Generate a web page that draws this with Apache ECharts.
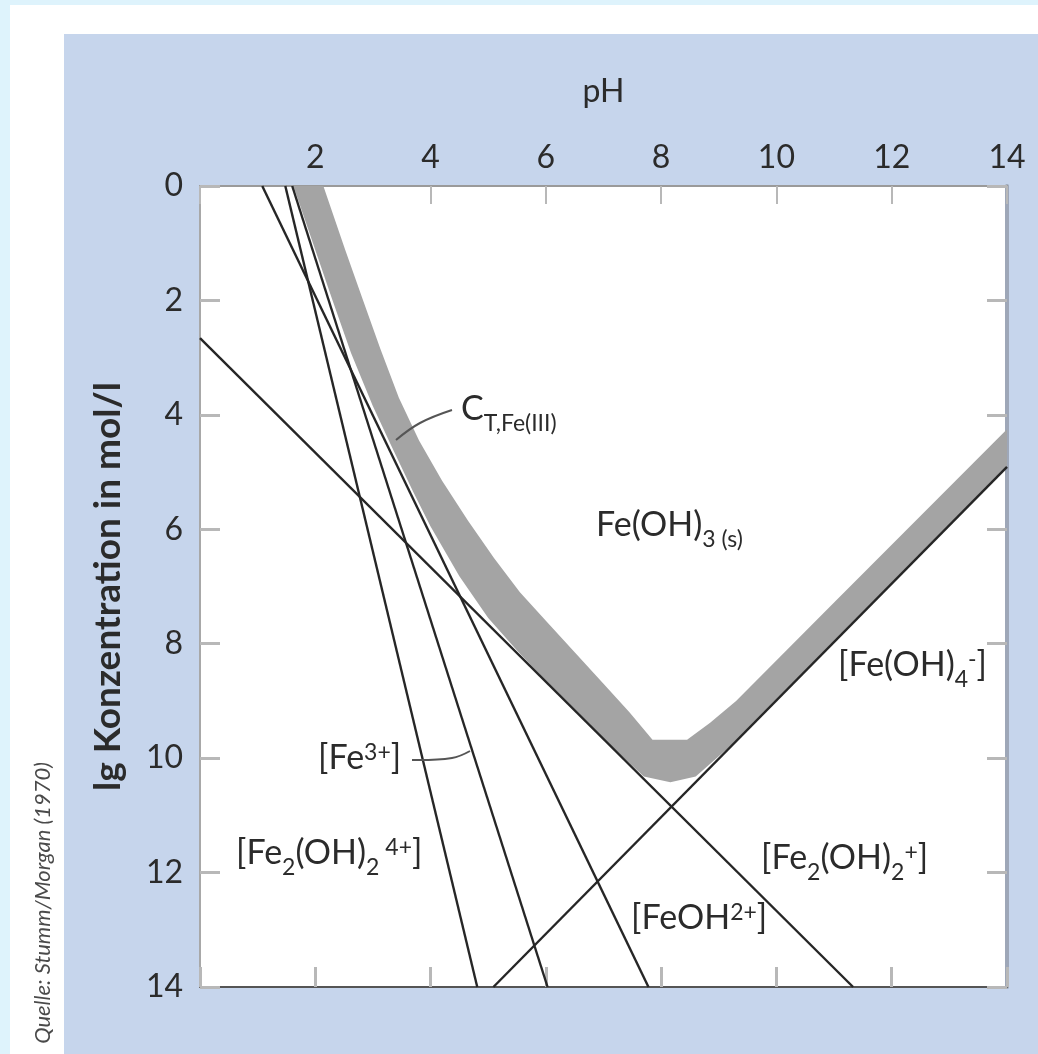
<!DOCTYPE html>
<html><head><meta charset="utf-8">
<script src="https://cdn.jsdelivr.net/npm/echarts@6/dist/echarts.min.js"></script>
<style>
html,body{margin:0;padding:0;}
body{width:1038px;height:1054px;background:#def3fc;position:relative;overflow:hidden;}
#white{position:absolute;left:10px;top:5px;right:0;bottom:0;background:#fff;}
#panel{position:absolute;left:64px;top:34px;right:0;bottom:0;background:#c6d5ec;}
#chart{position:absolute;left:0;top:0;width:1038px;height:1054px;}
</style></head><body>
<div id="white"></div><div id="panel"></div><div id="chart"></div>
<script>
// ---- data (pH, lg concentration shown as positive, axis inverted) ----
const xTickValues = [0, 2, 4, 6, 8, 10, 12, 14];
const xTickLabels = ['', '2', '4', '6', '8', '10', '12', '14'];
const yTickLabels = ['0', '2', '4', '6', '8', '10', '12', '14'];

const lineFe2OH2_4plus = [[1.48, 0], [4.81, 14]];
const lineFe3plus      = [[1.60, 0], [6.03, 14]];
const lineFeOH2plus    = [[1.08, 0], [7.78, 14]];
const lineFeOH2_plus   = [[0, 2.66], [11.33, 14]];
const lineFeOH4minus   = [[5.09, 14], [14, 4.91]];

// C_T,Fe(III) band: upper (toward solid region) and lower edges
const bandUpper = [[2.14,0],[2.52,1.12],[2.83,2.0],[3.13,2.85],[3.45,3.7],[3.8,4.45],[4.2,5.15],[4.65,5.85],[5.1,6.5],[5.55,7.1],[6.0,7.6],[6.5,8.15],[7.0,8.7],[7.45,9.2],[7.85,9.68],[8.45,9.68],[8.85,9.38],[9.3,9.0],[11,7.28],[14,4.25]];
const bandLower = [[14,4.91],[11,7.97],[9.3,9.7],[8.6,10.32],[8.16,10.42],[7.7,10.32],[7.0,9.66],[6.0,8.65],[5.5,8.12],[5.0,7.55],[4.5,6.82],[4.0,5.95],[3.7,5.35],[3.3,4.5],[3.0,3.85],[2.62,2.92],[2.3,2.0],[2.0,1.12],[1.62,0]];

const FONT = 'Lato';
const TXT = '#2b2b2b';
const chart = echarts.init(document.getElementById('chart'));

const rich = {
  m: {fontSize: 34, lineHeight: 34, padding: [0,0,9,0], verticalAlign: 'bottom', fontFamily: FONT, fill: TXT},
  b: {fontSize: 23, lineHeight: 23, verticalAlign: 'bottom', fontFamily: FONT, fill: TXT},
  p: {fontSize: 23, lineHeight: 23, padding: [0,0,20,0], verticalAlign: 'bottom', fontFamily: FONT, fill: TXT}
};
function label(x, y, text) {
  return {type: 'text', x: x, y: y, z: 100, style: {text: text, rich: rich, align: 'left', verticalAlign: 'top', fontFamily: FONT, fontSize: 34, fill: TXT}};
}

const lineSeries = (data) => ({
  type: 'line', data: data, symbol: 'none', showSymbol: false, clip: true, silent: true, z: 3,
  lineStyle: {color: '#262626', width: 2.4}
});

const tickStyle = {inside: true, length: 20, lineStyle: {color: '#b8b8b8', width: 3}};

chart.setOption({
  animation: false,
  grid: {left: 200, top: 186, right: 31, bottom: 67, show: true, backgroundColor: '#ffffff', borderWidth: 0},
  xAxis: [
    {type: 'value', position: 'top', min: 0, max: 14, interval: 2,
     axisLine: {show: true, onZero: false, lineStyle: {color: '#9a9a9a', width: 2}},
     axisTick: {show: true, inside: true, length: 18, lineStyle: {color: '#b8b8b8', width: 2}},
     axisLabel: {formatter: v => xTickLabels[xTickValues.indexOf(v)], fontSize: 32, color: TXT, margin: 12, fontFamily: FONT},
     splitLine: {show: false},
     name: 'pH', nameLocation: 'middle', nameGap: 78,
     nameTextStyle: {fontSize: 32, color: TXT, fontFamily: FONT}},
    {type: 'value', position: 'bottom', min: 0, max: 14, interval: 2,
     axisLine: {show: true, onZero: false, lineStyle: {color: '#555', width: 2}},
     axisTick: tickStyle, axisLabel: {show: false}, splitLine: {show: false}}
  ],
  yAxis: [
    {type: 'value', position: 'left', inverse: true, min: 0, max: 14, interval: 2,
     axisLine: {show: true, onZero: false, lineStyle: {color: '#a8a8a8', width: 2}},
     axisTick: tickStyle,
     axisLabel: {formatter: v => yTickLabels[v / 2], fontSize: 32, color: TXT, margin: 17, fontFamily: FONT},
     splitLine: {show: false},
     name: 'lg Konzentration in mol/l', nameLocation: 'middle', nameGap: 73,
     nameTextStyle: {fontSize: 37, fontWeight: 'bold', color: TXT, fontFamily: FONT}},
    {type: 'value', position: 'right', inverse: true, min: 0, max: 14, interval: 2,
     axisLine: {show: true, onZero: false, lineStyle: {color: '#9ea7b8', width: 4}},
     axisTick: tickStyle, axisLabel: {show: false}, splitLine: {show: false}}
  ],
  series: [
    {type: 'custom', silent: true, clip: true, z: 1, data: [[0, 0]],
     renderItem: (params, api) => {
       const pts = bandUpper.concat(bandLower).map(p => api.coord(p));
       return {type: 'polygon', shape: {points: pts}, style: {fill: '#a4a4a4'}};
     }},
    lineSeries(lineFe2OH2_4plus),
    lineSeries(lineFe3plus),
    lineSeries(lineFeOH2plus),
    lineSeries(lineFeOH2_plus),
    lineSeries(lineFeOH4minus)
  ],
  graphic: [
    {type: 'text', x: 43, y: 903, rotation: Math.PI / 2, z: 100,
     style: {text: 'Quelle: Stumm/Morgan (1970)', fontFamily: FONT, fontStyle: 'italic', fontSize: 22, fill: '#4a4a4a', align: 'center', verticalAlign: 'middle'}},
    {type: 'polyline', z: 100, shape: {points: [[396, 440], [420, 423], [452, 410]], smooth: 0.4},
     style: {stroke: '#555', lineWidth: 2, fill: null}},
    {type: 'polyline', z: 100, shape: {points: [[412, 760], [452, 758], [470, 751]], smooth: 0.4},
     style: {stroke: '#555', lineWidth: 2, fill: null}},
    label(461, 401, '{m|C}{b|T,Fe(III)}'),
    label(596, 517, '{m|Fe(OH)}{b|3 (s)}'),
    label(318, 750, '{m|[Fe}{p|3+}{m|]}'),
    label(236, 845, '{m|[Fe}{b|2}{m|(OH)}{b|2}{p| 4+}{m|]}'),
    label(631, 910, '{m|[FeOH}{p|2+}{m|]}'),
    label(761, 850, '{m|[Fe}{b|2}{m|(OH)}{b|2}{p|+}{m|]}'),
    label(838, 657, '{m|[Fe(OH)}{b|4}{p|-}{m|]}')
  ]
});
</script>
</body></html>
